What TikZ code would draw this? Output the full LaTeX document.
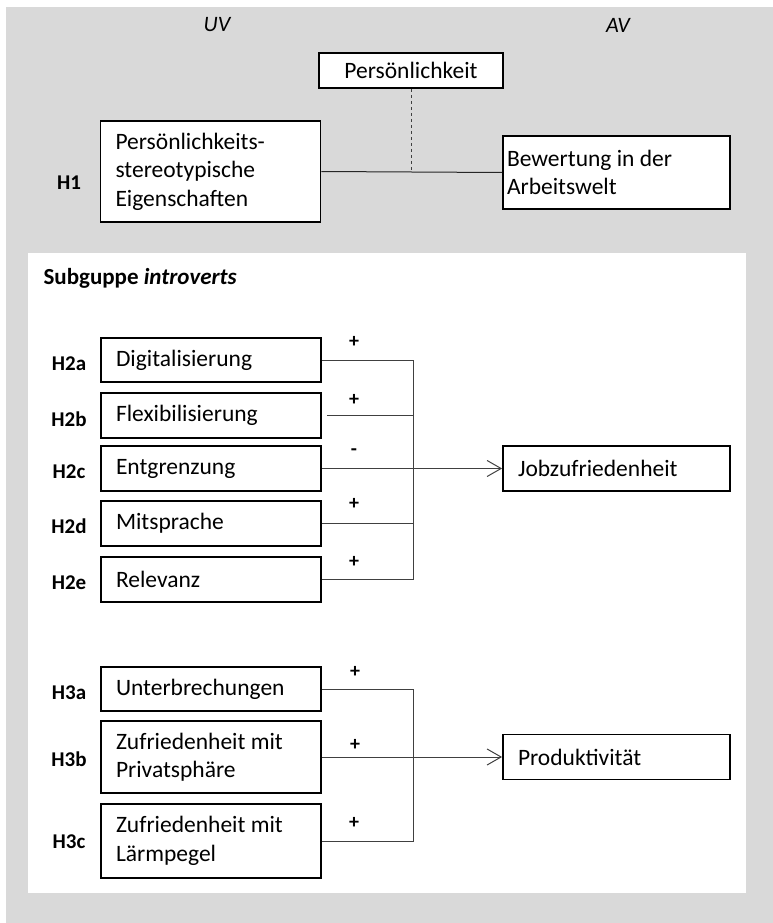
\documentclass[tikz,border=0pt]{standalone}
\usepackage{fontspec}
\setmainfont{Carlito}
\usetikzlibrary{arrows.meta}

\tikzset{
  varbox/.style={rectangle, draw, line width=1.8pt, fill=white, inner xsep=15pt, inner ysep=0pt,
    text width=190pt, align=flush left, font=\fontsize{23.5}{28.5}\selectfont},
  rightbox/.style={varbox, text width=197pt},
  hyp/.style={font=\bfseries\fontsize{21}{24}\selectfont},
  sign/.style={font=\bfseries\fontsize{20}{24}\selectfont},
  link/.style={line width=1pt, draw=black!75},
  pfeil/.style={link, -{Straight Barb[length=14pt, width=16pt, line width=1pt]}}
}

\begin{document}
\begin{tikzpicture}[x=1pt, y=-1pt]
\useasboundingbox (0,0) rectangle (773,923);

% Hintergrund
\fill[white] (0,0) rectangle (773,923);
\fill[black!15] (6,7) rectangle (773,923);
\fill[white] (28,253) rectangle (746,893);

%% H1
\node[font=\itshape\fontsize{22}{24}\selectfont] at (217,25) (uv) {UV};
\node[font=\itshape\fontsize{22}{24}\selectfont] at (618,25) (av) {AV};

\node[varbox, text width=154pt, align=center, minimum height=35pt] at (411,70.5) (pers) {Persönlichkeit};
\node[varbox, minimum height=101pt] at (210.5,171.5) (eig)
{Persönlichkeits-\\stereotypische\\Eigenschaften};
\node[rightbox, inner xsep=4pt, text width=219pt, minimum height=73pt] at (616.5,172.5) (bew)
{Bewertung in der\\Arbeitswelt};
\node[hyp] at (69,183) (h1) {H1};

% Verbindungen H1
\draw[link, draw=black!85] (eig.east) -- (bew.west);
\draw[link, dashed] (pers.south) -- (pers.south |- eig.east);

%% Subgruppe
\node[anchor=west, font=\bfseries\fontsize{23}{26}\selectfont] at (40,278) (sub)
{Subguppe \textit{introverts}};

% H2
\node[varbox, minimum height=44pt] at (211,360) (dig) {Digitalisierung};
\node[varbox, minimum height=45pt] at (211,415.5) (flex) {Flexibilisierung};
\node[varbox, minimum height=45pt] at (211,468.5) (ent) {Entgrenzung};
\node[varbox, minimum height=45pt] at (211,523.5) (mit) {Mitsprache};
\node[varbox, minimum height=45pt] at (211,579.5) (rel) {Relevanz};
\node[rightbox, minimum height=45pt] at (616.5,468.5) (job) {Jobzufriedenheit};

\node[hyp] at (69,364) (h2a) {H2a};
\node[hyp] at (69,419) (h2b) {H2b};
\node[hyp] at (69,472) (h2c) {H2c};
\node[hyp] at (69,526) (h2d) {H2d};
\node[hyp] at (69,583) (h2e) {H2e};

\node[sign] at (354,342) (s2a) {+};
\node[sign] at (354,400) (s2b) {+};
\node[sign] at (354,452) (s2c) {-};
\node[sign] at (354,504) (s2d) {+};
\node[sign] at (354,562) (s2e) {+};

\coordinate (bar2) at (413,468.5);
\draw[link] (dig.east) -| (bar2);
\draw[link] (rel.east) -| (bar2);
\draw[link, shorten <=5pt] (flex.east) -- (flex.east -| bar2);
\draw[link] (mit.east) -- (mit.east -| bar2);
\draw[pfeil] (ent.east) -- (job.west);

% H3
\node[varbox, minimum height=44pt] at (211,689) (unt) {Unterbrechungen};
\node[varbox, minimum height=72pt] at (211,757) (priv) {Zufriedenheit mit\\Privatsphäre};
\node[varbox, minimum height=74pt] at (211,841) (laerm) {Zufriedenheit mit\\Lärmpegel};
\node[rightbox, minimum height=45pt] at (616.5,757) (prod) {Produktivität};

\node[hyp] at (69,693) (h3a) {H3a};
\node[hyp] at (69,759) (h3b) {H3b};
\node[hyp] at (69,842) (h3c) {H3c};

\node[sign] at (355,672) (s3a) {+};
\node[sign] at (355,745) (s3b) {+};
\node[sign] at (354,823) (s3c) {+};

\coordinate (bar3) at (413,757);
\draw[link] (unt.east) -| (bar3);
\draw[link] (laerm.east) -| (bar3);
\draw[pfeil] (priv.east) -- (prod.west);

\end{tikzpicture}
\end{document}
